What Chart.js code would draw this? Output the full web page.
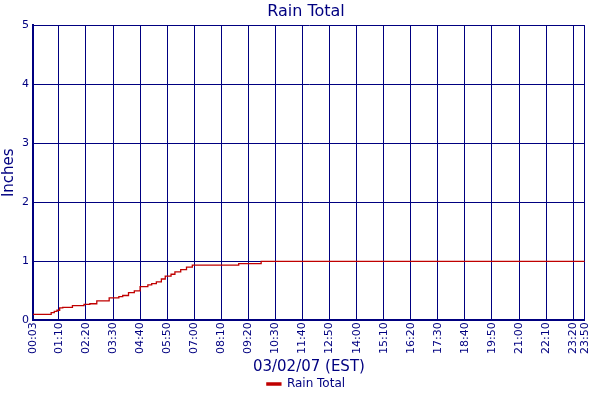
<!DOCTYPE html>
<html><head><script src="https://cdn.jsdelivr.net/npm/chart.js@4"></script>
<style>body{margin:0;background:#fff}#w{width:600px;height:400px}</style></head>
<body><div id="w"><canvas id="c"></canvas></div>
<script>
const times = ["00:03","00:50","00:58","01:05","01:12","01:20","01:45","02:15","02:30","02:48","03:20","03:45","03:55","04:10","04:25","04:40","05:00","05:10","05:22","05:35","05:45","06:00","06:10","06:25","06:40","06:55","08:55","09:53","23:50"];
const rainTotal = [0.10,0.13,0.15,0.17,0.21,0.22,0.25,0.27,0.28,0.33,0.38,0.40,0.42,0.47,0.50,0.57,0.60,0.62,0.65,0.70,0.75,0.78,0.82,0.86,0.90,0.935,0.96,1.00,1.00];
const tickLabels = ["00:03","01:10","02:20","03:30","04:40","05:50","07:00","08:10","09:20","10:30","11:40","12:50","14:00","15:10","16:20","17:30","18:40","19:50","21:00","22:10","23:20","23:50"];
const toMin = s => { const [h,m] = s.split(":").map(Number); return h*60+m; };
const pts = times.map((t,i)=>({x:toMin(t), y:rainTotal[i]}));
const navy = "#000080";
const F = "DejaVu Sans";
new Chart(document.getElementById("c"), {
  type: "line",
  data: { datasets: [{ label: "Rain Total", data: pts, borderColor: "#c00000", backgroundColor: "#c00000", borderWidth: 1.3, pointRadius: 0, stepped: true }] },
  options: {
    responsive: true, maintainAspectRatio: false, animation: false,
    layout: { padding: { left: 0, right: -12, top: 0, bottom: 0 } },
    plugins: {
      title: { display: true, text: "Rain Total", color: navy, font: { family: F, size: 16, weight: "normal" }, padding: { top: 2, bottom: 4 } },
      legend: { position: "bottom", labels: { color: navy, font: { family: F, size: 12 }, boxWidth: 14, boxHeight: 2, padding: 2 } },
      tooltip: { enabled: false }
    },
    scales: {
      x: {
        type: "linear", min: toMin(tickLabels[0]), max: toMin(tickLabels[tickLabels.length-1]),
        afterBuildTicks: s => { s.ticks = tickLabels.map(l => ({ value: toMin(l) })); },
        ticks: { autoSkip: false, maxRotation: 90, minRotation: 90, color: navy, font: { family: F, size: 11 }, padding: 2,
          callback: v => { const h = Math.floor(v/60), m = v%60; return String(h).padStart(2,"0")+":"+String(m).padStart(2,"0"); } },
        grid: { color: navy, lineWidth: 1, drawTicks: false },
        border: { color: navy, width: 2 },
        title: { display: true, text: "03/02/07 (EST)", color: navy, font: { family: F, size: 15 }, padding: { top: 2, bottom: 0 } }
      },
      y: {
        min: 0, max: 5,
        ticks: { stepSize: 1, color: navy, font: { family: F, size: 11 }, padding: 4 },
        grid: { color: navy, lineWidth: 1, drawTicks: false },
        border: { color: navy, width: 2 },
        title: { display: true, text: "Inches", color: navy, font: { family: F, size: 15 }, padding: 0 }
      }
    }
  }
});
</script></body></html>
